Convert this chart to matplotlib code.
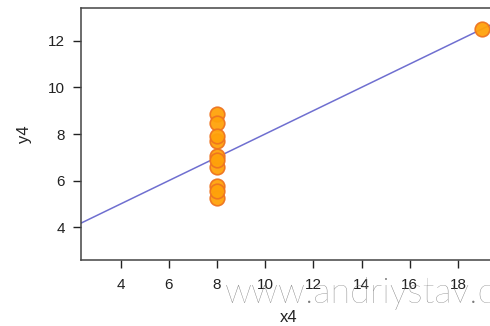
import matplotlib
matplotlib.use("Agg")
import matplotlib.pyplot as plt
import numpy as np

x4 = [8, 8, 8, 8, 8, 8, 8, 19, 8, 8, 8]
y4 = [6.58, 5.76, 7.71, 8.84, 8.47, 7.04, 5.25, 12.50, 5.56, 7.91, 6.89]
intercept = 3.0
slope = 0.5
xticks = [4, 6, 8, 10, 12, 14, 16, 18]
yticks = [4, 6, 8, 10, 12]

plt.rcParams['font.family'] = ['Liberation Sans', 'DejaVu Sans']

W, H = 490, 326
fig = plt.figure(figsize=(4.9, 3.26), dpi=100)
ax_l, ax_r, ax_t, ax_b = 81, 497.5, 8, 260
ax = fig.add_axes([ax_l/W, 1-ax_b/H, (ax_r-ax_l)/W, (ax_b-ax_t)/H])

ax.set_xlim(2.36, 19.64)
ax.set_ylim(2.6, 13.4)

xl = np.array(ax.get_xlim())
ax.plot(xl, intercept + slope*xl, color='#6f6fd0', lw=1.1, zorder=2)
ax.plot(x4, y4, 'o', ms=10.5, mfc='#ffa20a', mec='#ee7420', mew=1.2, alpha=0.95, zorder=3, clip_on=False)

ax.set_xticks(xticks)
ax.set_yticks(yticks)
ax.tick_params(direction='out', length=5.5, width=1, colors='#222222', labelsize=11)
ax.tick_params(axis='x', pad=7.5)
ax.tick_params(axis='y', pad=6)
for s in ax.spines.values():
    s.set_color('#444444')
    s.set_linewidth(1.1)
ax.set_xlabel('x4', fontsize=12, color='#222222', va='center')
ax.set_ylabel('y4', fontsize=12, color='#222222', va='center')
ax.xaxis.set_label_coords((289-ax_l)/(ax_r-ax_l), -(318-ax_b)/(ax_b-ax_t))
ax.yaxis.set_label_coords(-(ax_l-25)/(ax_r-ax_l), 0.5)

fig.text(225/W, 1-303/H, 'www.andriystav.com', fontsize=26, color='#7a7a7a',
         family=['Lato', 'DejaVu Sans'], fontweight='light', va='baseline', ha='left')

fig.savefig('out.png', dpi=100)
